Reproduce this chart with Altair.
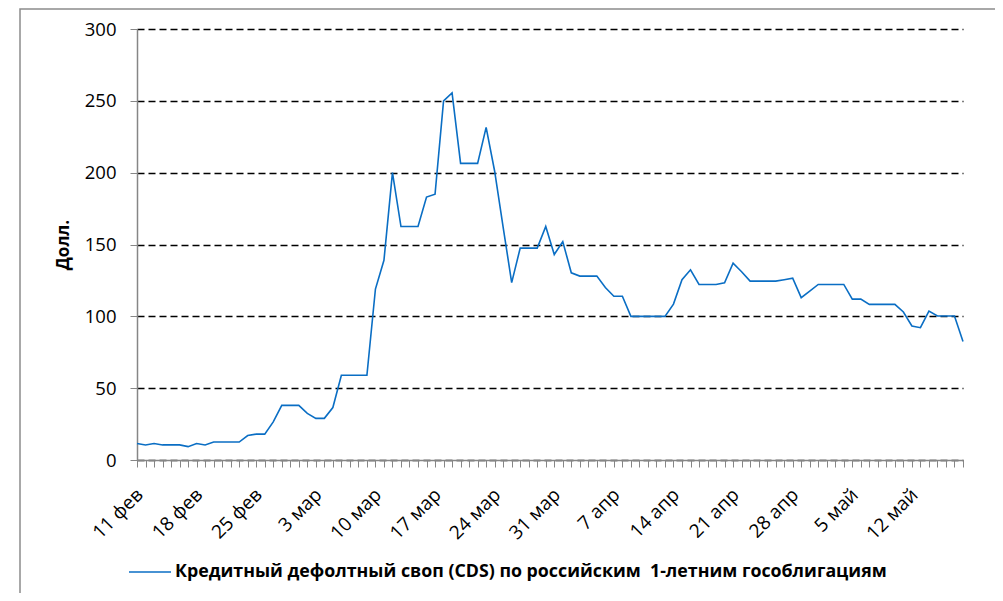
import altair as alt
import pandas as pd
import json

# ---- data ----
START_DATE = "2020-02-11"
CDS_VALUES = [
    11.5, 10.5, 11.5, 10.5, 10.5, 10.5, 9.3, 11.5, 10.5, 12.5,
    12.5, 12.5, 12.5, 17.0, 18.0, 18.0, 26.5, 38.0, 38.0, 38.0,
    32.4, 29.0, 29.0, 36.5, 59.0, 59.0, 59.0, 59.0, 119.0, 139.0,
    200.0, 162.5, 162.5, 162.5, 183.0, 185.0, 250.0, 255.5, 206.5, 206.5,
    206.5, 231.5, 201.0, 162.0, 123.5, 147.5, 147.5, 147.5, 162.5, 143.0,
    152.0, 130.3, 128.0, 128.0, 128.0, 120.0, 114.0, 114.0, 100.0, 100.0,
    100.0, 100.0, 100.0, 108.5, 125.5, 132.4, 122.2, 122.2, 122.2, 123.4,
    137.0, 131.0, 124.5, 124.5, 124.5, 124.5, 125.5, 126.6, 113.0, 117.5,
    122.2, 122.2, 122.2, 122.2, 112.0, 112.0, 108.3, 108.3, 108.3, 108.3,
    103.0, 93.3, 92.1, 103.7, 100.2, 100.2, 100.2, 82.5,
]
SERIES_NAME = "Кредитный дефолтный своп (CDS) по российским\u00a0 1-летним гособлигациям"
X_LABELS = ["11 фев", "18 фев", "25 фев", "3 мар", "10 мар", "17 мар", "24 мар",
            "31 мар", "7 апр", "14 апр", "21 апр", "28 апр", "5 май", "12 май"]
Y_TICKS = [0, 50, 100, 150, 200, 250, 300]
Y_TITLE = "Долл."

dates = pd.date_range(START_DATE, periods=len(CDS_VALUES), freq="D")
ms = [int(d.value // 10**6) for d in dates]
df = pd.DataFrame({"date": ms, "value": CDS_VALUES, "series": SERIES_NAME})

t0 = ms[0]
label_expr = (
    f"(floor((datum.value - {t0}) / 86400000 + 0.5) % 7 == 0) ? "
    f"{json.dumps(X_LABELS, ensure_ascii=False)}[floor((datum.value - {t0}) / 86400000 + 0.5) / 7] : ''"
)

FONT = "Open Sans"
W, H = 826, 431

line = alt.Chart(df).mark_line(strokeWidth=1.6).encode(
    x=alt.X(
        "date:T",
        scale=alt.Scale(type="utc", domain=[ms[0], ms[-1]]),
        axis=alt.Axis(
            values=ms,
            labelExpr=label_expr,
            labelAngle=-45,
            labelOverlap=False,
            labelFont=FONT,
            labelFontSize=19,
            labelColor="#000000",
            labelPadding=18,
            labelOffset=-4,
            tickSize=7,
            tickColor="#868686",
            tickWidth=1,
            domainColor="#868686",
            domainWidth=1.5,
            grid=False,
            title=None,
            zindex=1,
        ),
    ),
    y=alt.Y(
        "value:Q",
        scale=alt.Scale(domain=[0, 300], nice=False),
        axis=alt.Axis(
            values=Y_TICKS,
            title=Y_TITLE,
            titleFont=FONT,
            titleFontSize=17,
            titleFontWeight="bold",
            titleColor="#000000",
            titleAngle=270,
            titleX=-74,
            titleY=H / 2,
            titleAlign="center",
            titleBaseline="middle",
            labelFont=FONT,
            labelFontSize=18.5,
            labelColor="#000000",
            labelPadding=14,
            tickSize=7,
            tickColor="#868686",
            tickWidth=1,
            domainColor="#868686",
            domainWidth=1.5,
            grid=True,
            gridColor="#000000",
            gridDash=[7, 4],
            gridWidth=1.3,
        ),
    ),
    color=alt.Color(
        "series:N",
        scale=alt.Scale(range=["#0A6EC4"]),
        legend=alt.Legend(
            orient="none",
            legendX=-9,
            legendY=521,
            title=None,
            symbolType="stroke",
            symbolSize=1764,
            symbolStrokeWidth=1.6,
            labelFont=FONT,
            labelFontSize=17.8,
            labelFontWeight="bold",
            labelColor="#000000",
            labelLimit=2000,
            labelOffset=3,
            padding=0,
        ),
    ),
)

frame = alt.Chart(pd.DataFrame({"a": [0]})).mark_rect(
    fill=None, stroke="#8c8c8c", strokeWidth=1.5
).encode(
    x=alt.value(-117), y=alt.value(-20), x2=alt.value(3000), y2=alt.value(3000)
)

chart = alt.layer(frame, line).properties(
    width=W,
    height=H,
    autosize=alt.AutoSizeParams(type="none"),
    padding={"left": 129, "top": 21, "right": 32, "bottom": 133},
    background="white",
).configure_view(stroke=None)

chart.save("out.html", embed_options={"renderer": "svg", "actions": False})
